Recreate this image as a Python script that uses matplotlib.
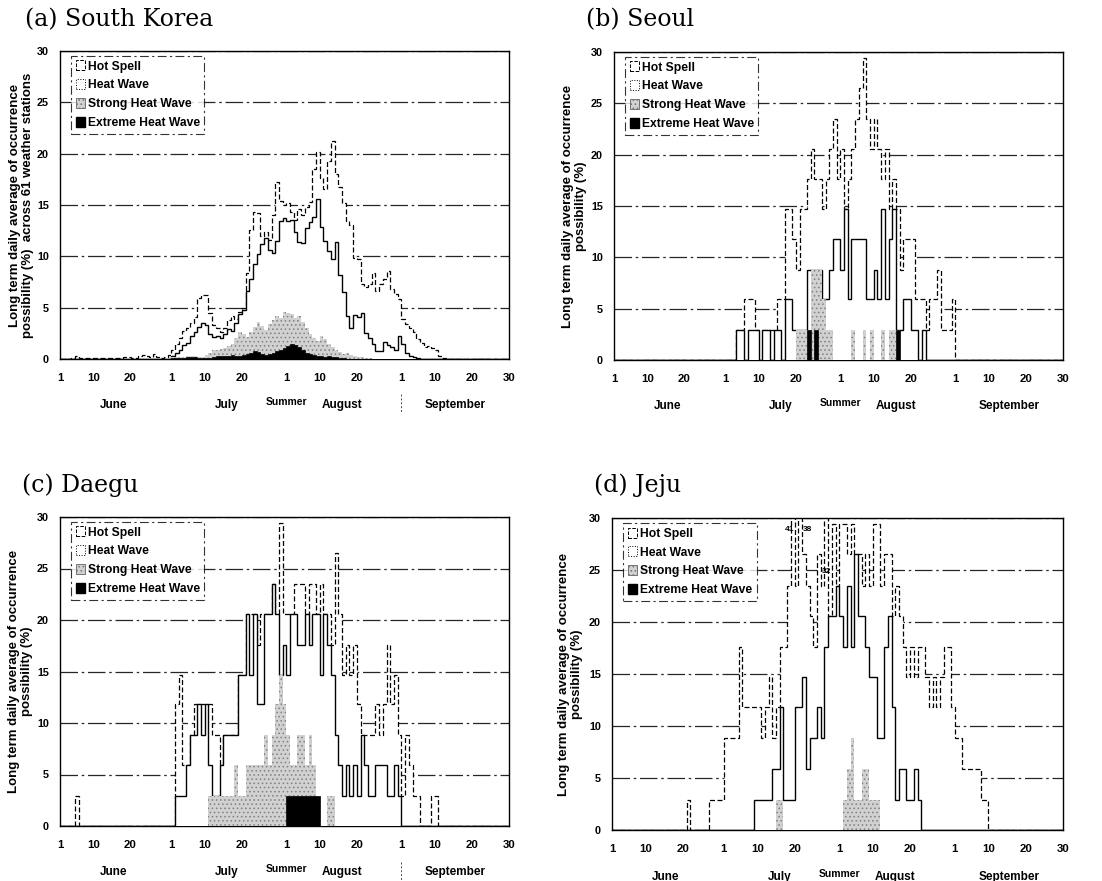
"""Heat wave occurrence possibility in summer

Four step charts (South Korea, Seoul, Daegu, Jeju) of the long term daily
average occurrence possibility of hot spells and heat waves, 1 June to
30 September. Day 0 is 1 June.
"""
import numpy as np
import matplotlib.pyplot as plt
from matplotlib.patches import Patch
from matplotlib.transforms import blended_transform_factory

plt.rcParams['font.family'] = ['Liberation Sans', 'DejaVu Sans']
plt.rcParams['font.weight'] = 'bold'
plt.rcParams['axes.labelweight'] = 'bold'
plt.rcParams['hatch.linewidth'] = 0.6

N_DAYS = 122
TICK_DAYS = [0, 9, 19, 30, 39, 49, 61, 70, 80, 92, 101, 111, 121]
TICK_LABELS = ["1", "10", "20", "1", "10", "20", "1", "10", "20",
               "1", "10", "20", "30"]
MONTHS = ["June", "July", "August", "September"]
MONTH_DAYS = [14.5, 45, 76, 106.5]
SUMMER_DAY = 61
SERIES = ["Hot Spell", "Heat Wave", "Strong Heat Wave", "Extreme Heat Wave"]

# (start day, daily values in %)
KOREA_HOT = (0, [
    0, 0, 0, 0.1, 0.3, 0.1, 0.1, 0.1, 0.1, 0.1,
    0.1, 0.1, 0.1, 0.1, 0.1, 0.1, 0.1, 0.2, 0.2, 0.1,
    0.1, 0.3, 0.4, 0.3, 0.2, 0.5, 0.2, 0.1, 0.2, 0.4,
    0.9, 1.5, 2.0, 2.7, 3.0, 3.5, 4.1, 5.9, 6.2, 6.2,
    4.5, 3.3, 3.0, 2.6, 3.0, 3.8, 4.2, 3.9, 4.6, 5.0,
    8.4, 12.6, 14.3, 14.2, 12.0, 12.4, 11.6, 14.0, 17.2, 15.4,
    15.0, 15.2, 14.3, 13.5, 14.6, 14.0, 14.8, 15.3, 18.5, 20.2,
    17.6, 16.6, 19.3, 21.2, 18.0, 16.8, 15.2, 13.4, 13.1, 9.8,
    9.7, 7.3, 7.0, 7.3, 8.4, 6.6, 7.3, 7.8, 8.6, 6.8,
    6.3, 5.8, 3.9, 3.4, 3.0, 2.6, 1.9, 1.6, 1.2, 1.3,
    1.1, 0.9, 0.3, 0.1])
KOREA_HEAT = (30, [
    0.3, 0.6, 0.9, 1.4, 1.6, 2.2, 2.6, 3.1, 3.5, 3.3,
    2.4, 2.1, 2.2, 2.0, 2.4, 2.9, 2.7, 3.5, 4.4, 4.8,
    6.6, 7.8, 9.3, 10.2, 11.2, 11.8, 10.6, 10.3, 11.5, 13.4,
    13.7, 13.4, 13.5, 12.4, 11.4, 11.3, 12.8, 13.3, 13.8, 15.6,
    12.9, 11.5, 10.5, 9.7, 11.4, 8.2, 6.5, 4.2, 3.0, 4.3,
    4.1, 4.5, 2.5, 2.0, 1.5, 0.8, 0.8, 1.7, 1.4, 1.2,
    0.9, 2.2, 1.5, 0.6, 0.3, 0.2, 0.1])
KOREA_STRONG = (30, [
    0.2, 0.2, 0.2, 0.2, 0.3, 0.3, 0.3, 0.2, 0.2, 0.4,
    0.6, 0.9, 0.9, 1.0, 1.1, 1.3, 1.5, 2.0, 2.6, 2.4,
    2.1, 2.6, 3.1, 3.6, 3.2, 2.8, 3.4, 3.8, 4.2, 4.0,
    4.6, 4.5, 4.4, 4.0, 4.2, 3.6, 3.0, 2.4, 2.0, 1.8,
    2.2, 1.9, 1.5, 1.2, 0.9, 0.7, 0.5, 0.6, 0.4, 0.3,
    0.2, 0.2, 0.1, 0.1])
KOREA_EXTREME = (30, [
    0.1, 0.1, 0.1, 0.1, 0.2, 0.2, 0.2, 0.1, 0.1, 0.1,
    0.1, 0.2, 0.3, 0.3, 0.3, 0.3, 0.4, 0.3, 0.3, 0.4,
    0.5, 0.6, 0.8, 0.7, 0.5, 0.4, 0.5, 0.6, 0.8, 0.9,
    1.1, 1.3, 1.5, 1.4, 1.2, 0.9, 0.6, 0.5, 0.4, 0.3,
    0.3, 0.2, 0.3, 0.2, 0.2, 0.1, 0.1])

SEOUL_HOT = (33, [
    2.9, 2.9, 5.9, 5.9, 5.9, 2.9, 2.9, 2.9, 2.9, 2.9,
    2.9, 5.9, 5.9, 14.7, 14.7, 11.8, 8.8, 14.7, 14.7, 17.6,
    20.6, 17.6, 17.6, 14.7, 17.6, 20.6, 23.5, 17.6, 20.6, 14.7,
    17.6, 20.6, 23.5, 26.5, 29.4, 23.5, 20.6, 23.5, 20.6, 17.6,
    20.6, 14.7, 17.6, 14.7, 8.8, 11.8, 11.8, 11.8, 5.9, 5.9,
    5.9, 2.9, 5.9, 5.9, 8.8, 2.9, 2.9, 2.9, 5.9])
SEOUL_HEAT = (33, [
    2.9, 2.9, 0, 2.9, 2.9, 2.9, 0, 2.9, 2.9, 0,
    2.9, 2.9, 0, 5.9, 5.9, 2.9, 2.9, 2.9, 2.9, 8.8,
    8.8, 8.8, 8.8, 5.9, 5.9, 8.8, 11.8, 11.8, 8.8, 14.7,
    5.9, 11.8, 11.8, 11.8, 11.8, 5.9, 5.9, 8.8, 5.9, 14.7,
    5.9, 11.8, 14.7, 2.9, 2.9, 5.9, 5.9, 2.9, 2.9, 0,
    2.9])
SEOUL_STRONG = (49, [
    2.9, 2.9, 2.9, 2.9, 8.8, 8.8, 8.8, 5.9, 2.9, 2.9,
    0, 0, 0, 0, 0, 2.9, 0, 0, 2.9, 0,
    2.9, 0, 0, 2.9, 0, 2.9, 2.9, 2.9])
SEOUL_EXTREME = (52, [2.9, 0, 2.9] + [0] * 21 + [2.9])

DAEGU_HOT = (4, [2.9] + [0] * 26 + [
    11.8, 14.7, 5.9, 5.9, 8.8, 11.8, 11.8, 11.8, 11.8,
    11.8, 8.8, 8.8, 5.9, 8.8, 8.8, 8.8, 8.8, 14.7, 14.7,
    20.6, 20.6, 20.6, 17.6, 20.6, 20.6, 20.6, 23.5, 20.6, 29.4,
    20.6, 20.6, 20.6, 23.5, 23.5, 23.5, 20.6, 23.5, 23.5, 20.6,
    23.5, 20.6, 20.6, 17.6, 26.5, 20.6, 14.7, 17.6, 14.7, 17.6,
    11.8, 8.8, 8.8, 8.8, 8.8, 11.8, 8.8, 11.8, 17.6, 11.8,
    14.7, 8.8, 2.9, 8.8, 5.9, 2.9, 2.9, 0, 0, 0,
    2.9, 2.9])
DAEGU_HEAT = (31, [
    2.9, 2.9, 2.9, 5.9, 8.8, 8.8, 11.8, 8.8, 11.8,
    5.9, 2.9, 2.9, 5.9, 8.8, 8.8, 8.8, 8.8, 14.7, 14.7,
    20.6, 14.7, 20.6, 11.8, 11.8, 20.6, 20.6, 23.5, 20.6, 14.7,
    17.6, 14.7, 20.6, 20.6, 17.6, 17.6, 20.6, 17.6, 20.6, 20.6,
    14.7, 20.6, 17.6, 14.7, 8.8, 5.9, 2.9, 5.9, 2.9, 5.9,
    2.9, 8.8, 5.9, 2.9, 2.9, 5.9, 5.9, 5.9, 2.9, 2.9,
    5.9, 2.9])
DAEGU_STRONG = (40, [
    2.9, 2.9, 2.9, 2.9, 2.9, 2.9, 2.9, 5.9, 2.9, 2.9,
    5.9, 5.9, 5.9, 5.9, 5.9, 8.8, 5.9, 8.8, 11.8, 14.7,
    11.8, 8.8, 5.9, 5.9, 8.8, 8.8, 5.9, 8.8, 5.9, 0,
    0, 0, 2.9, 2.9])
DAEGU_EXTREME = (61, [2.9, 2.9, 2.9, 2.9, 2.9, 2.9, 2.9, 2.9, 2.9])

JEJU_HOT = (20, [
    2.9, 0, 0, 0, 0, 0, 2.9, 2.9, 2.9, 2.9,
    8.8, 8.8, 8.8, 8.8, 17.6, 11.8, 11.8, 11.8, 11.8, 11.8,
    8.8, 11.8, 14.7, 8.8, 11.8, 17.6, 17.6, 23.5, 41.2, 23.5,
    38.2, 26.5, 23.5, 20.6, 17.6, 26.5, 23.5, 32.4, 20.6, 29.4,
    23.5, 29.4, 29.4, 26.5, 29.4, 26.5, 26.5, 23.5, 26.5, 23.5,
    29.4, 29.4, 23.5, 26.5, 26.5, 20.6, 23.5, 20.6, 17.6, 14.7,
    17.6, 14.7, 17.6, 17.6, 14.7, 11.8, 14.7, 11.8, 14.7, 17.6,
    17.6, 11.8, 8.8, 8.8, 5.9, 5.9, 5.9, 5.9, 5.9, 2.9,
    2.9])
JEJU_HEAT = (38, [
    2.9, 2.9, 2.9, 2.9, 2.9, 5.9, 5.9, 11.8, 2.9, 2.9,
    2.9, 11.8, 11.8, 14.7, 5.9, 8.8, 8.8, 11.8, 8.8, 17.6,
    20.6, 20.6, 23.5, 20.6, 17.6, 23.5, 17.6, 26.5, 20.6, 20.6,
    17.6, 14.7, 14.7, 8.8, 8.8, 17.6, 20.6, 11.8, 2.9, 5.9,
    5.9, 2.9, 2.9, 5.9, 2.9])
JEJU_STRONG = (44, [2.9, 2.9] + [0] * 16 + [
    2.9, 5.9, 8.8, 2.9, 2.9, 5.9, 5.9, 2.9, 2.9, 2.9])
JEJU_EXTREME = (0, [])

# off-scale Hot Spell values written in panel (d): (day, height, label)
JEJU_NOTES = [(47.7, 28.9, "41"), (52.4, 28.9, "38"), (57.6, 24.9, "32")]

YLABEL = "Long term daily average of occurrence\npossibility (%)"
YLABEL_KOREA = ("Long term daily average of occurrence\n"
                "possibility (%)  across 61 weather stations")

# panel boxes in pixels: left, top, right, bottom
PANELS = [
    dict(title="(a) South Korea", title_xy=(25, 20), box=(60, 51, 509, 359),
         ylabel=YLABEL_KOREA, ylabel_x=-0.058,
         data=(KOREA_HOT, KOREA_HEAT, KOREA_STRONG, KOREA_EXTREME),
         sep_mark=True, notes=[]),
    dict(title="(b) Seoul", title_xy=(586, 20), box=(614, 52, 1063, 360),
         ylabel=YLABEL, ylabel_x=-0.061,
         data=(SEOUL_HOT, SEOUL_HEAT, SEOUL_STRONG, SEOUL_EXTREME),
         sep_mark=False, notes=[]),
    dict(title="(c) Daegu", title_xy=(22, 485), box=(60, 517, 509, 826),
         ylabel=YLABEL, ylabel_x=-0.06,
         data=(DAEGU_HOT, DAEGU_HEAT, DAEGU_STRONG, DAEGU_EXTREME),
         sep_mark=True, notes=[]),
    dict(title="(d) Jeju", title_xy=(594, 485), box=(612, 518, 1063, 830),
         ylabel=YLABEL, ylabel_x=-0.064,
         data=(JEJU_HOT, JEJU_HEAT, JEJU_STRONG, JEJU_EXTREME),
         sep_mark=False, notes=JEJU_NOTES),
]

W, H = 1102, 881


def daily(series):
    """Expand (start, values) into one value per day."""
    start, values = series
    out = np.zeros(N_DAYS)
    out[start:start + len(values)] = values
    return out


def legend_handles():
    return [
        Patch(facecolor="white", edgecolor="black", linestyle="--",
              linewidth=0.7, label=SERIES[0]),
        Patch(facecolor="white", edgecolor="black", linestyle=":",
              linewidth=0.7, label=SERIES[1]),
        Patch(facecolor="0.82", edgecolor="0.45", hatch="....",
              linewidth=0.7, label=SERIES[2]),
        Patch(facecolor="black", edgecolor="black", label=SERIES[3]),
    ]


def draw_panel(fig, p):
    left, top, right, bottom = p["box"]
    ax = fig.add_axes([left / W, 1 - bottom / H,
                       (right - left) / W, (bottom - top) / H])
    hot, heat, strong, extreme = [daily(s) for s in p["data"]]
    edges = np.arange(N_DAYS + 1)

    ax.stairs(hot, edges, fill=True, facecolor="white", edgecolor="black",
              linestyle=(0, (4, 2)), linewidth=0.9, zorder=2)
    ax.stairs(heat, edges, fill=True, facecolor="white", edgecolor="black",
              linewidth=1.0, zorder=3)
    ax.stairs(strong, edges, fill=True, facecolor="0.82", edgecolor="0.5",
              hatch="....", linewidth=0, zorder=4)
    ax.stairs(extreme, edges, fill=True, facecolor="black",
              edgecolor="black", linewidth=0.5, zorder=5)

    ax.set_xlim(0, N_DAYS - 1)
    ax.set_ylim(0, 30)
    ax.set_yticks(np.arange(0, 31, 5))
    ax.set_xticks(TICK_DAYS)
    ax.set_xticklabels(TICK_LABELS)
    ax.tick_params(axis="x", length=0, pad=10, labelsize=8.2)
    ax.tick_params(axis="y", length=0, pad=8, labelsize=7.8)
    ax.set_axisbelow(True)
    ax.grid(axis="y", color="0.15", linewidth=0.9,
            linestyle=(0, (14, 3, 2, 3)))
    for sp in ax.spines.values():
        sp.set_linewidth(1.0)

    ax.set_ylabel(p["ylabel"], fontsize=9.5, fontweight="bold",
                  linespacing=1.1)
    ax.yaxis.set_label_coords(p["ylabel_x"], 0.5)

    trans = blended_transform_factory(ax.transData, ax.transAxes)
    for name, day in zip(MONTHS, MONTH_DAYS):
        ax.text(day, -0.15, name, transform=trans, ha="center",
                va="center", fontsize=8.5)
    ax.text(SUMMER_DAY, -0.14, "Summer", transform=trans, ha="center",
            va="center", fontsize=7.5)
    if p["sep_mark"]:
        ax.plot([92, 92], [-0.115, -0.175], transform=trans, clip_on=False,
                color="0.3", linewidth=0.7, linestyle=(0, (2, 2)))

    for day, height, label in p["notes"]:
        ax.text(day, height, label, ha="center", va="center", fontsize=6)

    leg = ax.legend(handles=legend_handles(), loc="upper left",
                    bbox_to_anchor=(0.025, 0.985), borderaxespad=0,
                    fontsize=8.7, fancybox=False, handlelength=0.7,
                    handleheight=0.9, handletextpad=0.25, labelspacing=0.55,
                    borderpad=0.4)
    frame = leg.get_frame()
    frame.set_edgecolor("black")
    frame.set_linewidth(0.8)
    frame.set_linestyle((0, (8, 3, 2, 3)))

    fig.text(p["title_xy"][0] / W, 1 - p["title_xy"][1] / H, p["title"],
             family="DejaVu Serif", fontweight="normal", fontsize=17,
             ha="left", va="center")
    return ax


def main():
    fig = plt.figure(figsize=(W / 100, H / 100), dpi=100)
    for p in PANELS:
        draw_panel(fig, p)
    fig.savefig("out.png", dpi=100)
    plt.close(fig)


if __name__ == "__main__":
    main()
